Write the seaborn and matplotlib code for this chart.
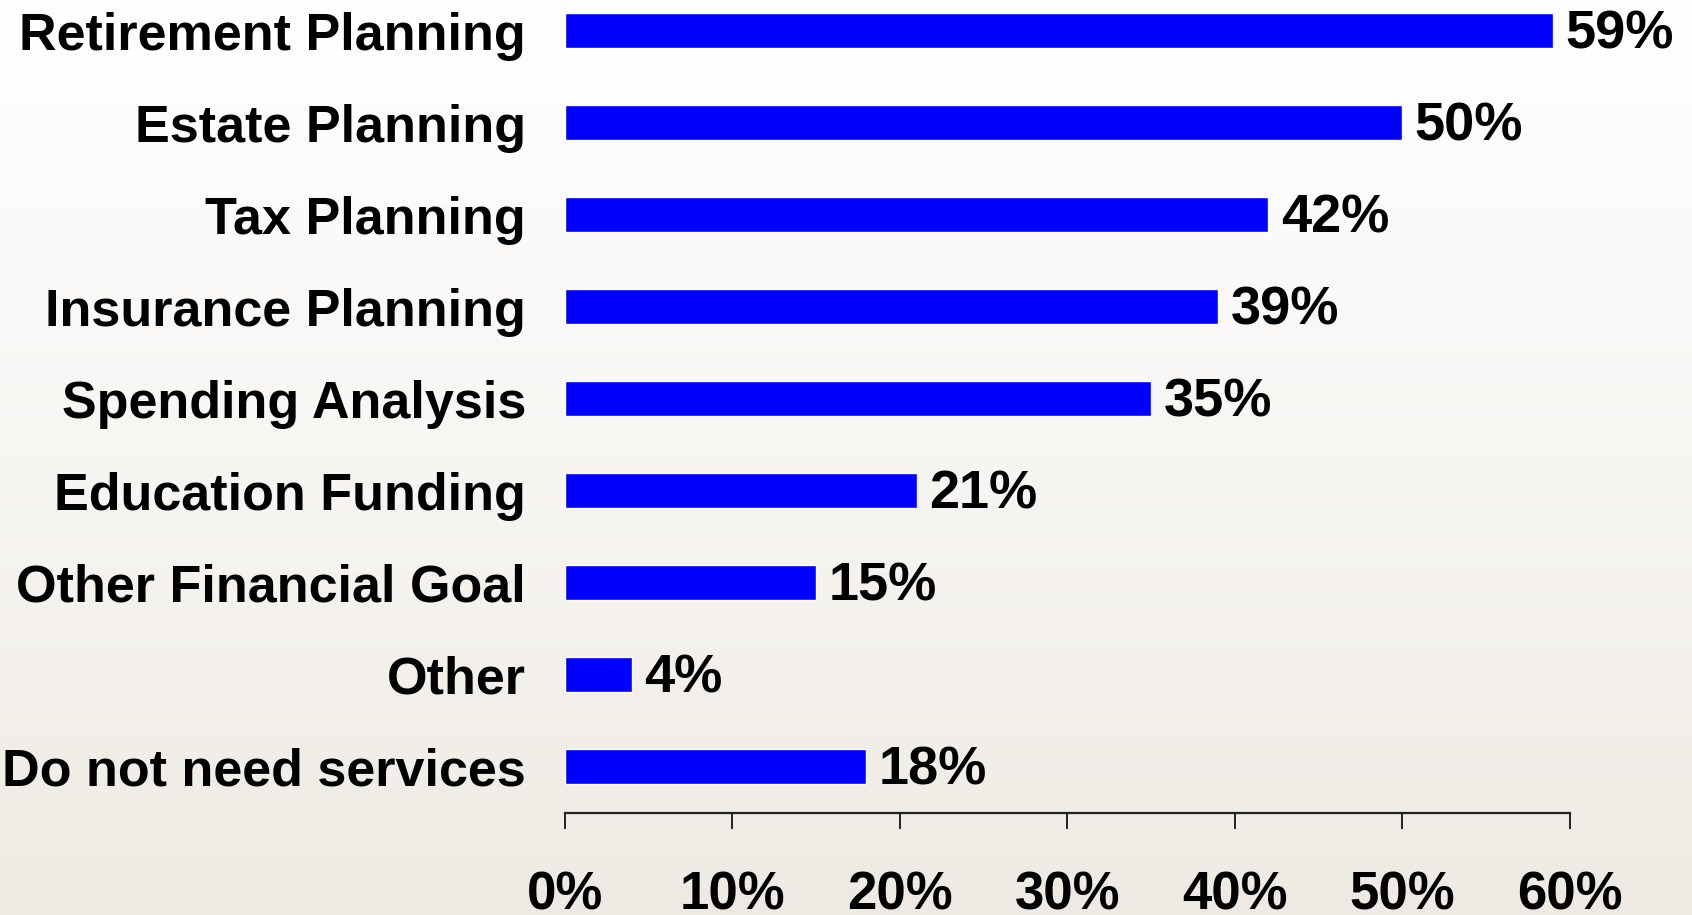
import numpy as np
import pandas as pd
import matplotlib
matplotlib.use("Agg")
import matplotlib.pyplot as plt
import seaborn as sns
from matplotlib.colors import LinearSegmentedColormap

# Services respondents want from an advisor (share of respondents, %)
categories = [
    "Retirement Planning",
    "Estate Planning",
    "Tax Planning",
    "Insurance Planning",
    "Spending Analysis",
    "Education Funding",
    "Other Financial Goal",
    "Other",
    "Do not need services",
]
shares = [59, 50, 42, 39, 35, 21, 15, 4, 18]
tick_values = [0, 10, 20, 30, 40, 50, 60]
tick_labels = ["0%", "10%", "20%", "30%", "40%", "50%", "60%"]

sns.set_theme(style="white")
plt.rcParams["font.family"] = ["Liberation Sans", "DejaVu Sans"]
plt.rcParams["font.weight"] = "bold"

W, H = 1692, 915
fig = plt.figure(figsize=(W / 100, H / 100), dpi=100)

# soft vertical background gradient
bg = fig.add_axes([0, 0, 1, 1], zorder=0)
grad = np.linspace(0, 1, 256).reshape(-1, 1)
cmap = LinearSegmentedColormap.from_list("bg", ["#ffffff", "#f8f6f3", "#eeeae3"])
bg.imshow(grad, aspect="auto", cmap=cmap, extent=[0, 1, 0, 1], origin="upper")
bg.axis("off")

x0, x1 = 565, 1569.7
y_axis = 812.7
ax = fig.add_axes([x0 / W, (H - y_axis) / H, (x1 - x0) / W, y_axis / H], zorder=1)
ax.patch.set_alpha(0)

df = pd.DataFrame({"service": categories, "share": shares})
sns.barplot(data=df, x="share", y="service", order=categories, color="#0000ff",
            saturation=1, width=0.38, ax=ax, errorbar=None)

for container in ax.containers:
    anns = ax.bar_label(container, labels=[f"{v}%" for v in shares], padding=9,
                        fontsize=39, fontweight="bold", color="black")
    for ann in anns:
        ann.xyann = (9, -3)

ax.set_xlim(0, 60)
ax.set_ylim(8.5, -0.334)
ax.set_xticks(tick_values)
ax.set_xticklabels(tick_labels)
ax.set_xlabel("")
ax.set_ylabel("")

for side in ["top", "right", "left"]:
    ax.spines[side].set_visible(False)
ax.spines["bottom"].set_color("#222222")
ax.spines["bottom"].set_linewidth(1.6)

ax.tick_params(axis="x", which="major", direction="out", length=11.5, width=1.4,
               color="#222222", pad=30, labelsize=38, labelcolor="black", bottom=True)
ax.tick_params(axis="y", length=0, pad=28, labelsize=37.5, labelcolor="black")
for lbl in ax.get_xticklabels() + ax.get_yticklabels():
    lbl.set_fontweight("bold")

fig.savefig("out.png", dpi=100)
